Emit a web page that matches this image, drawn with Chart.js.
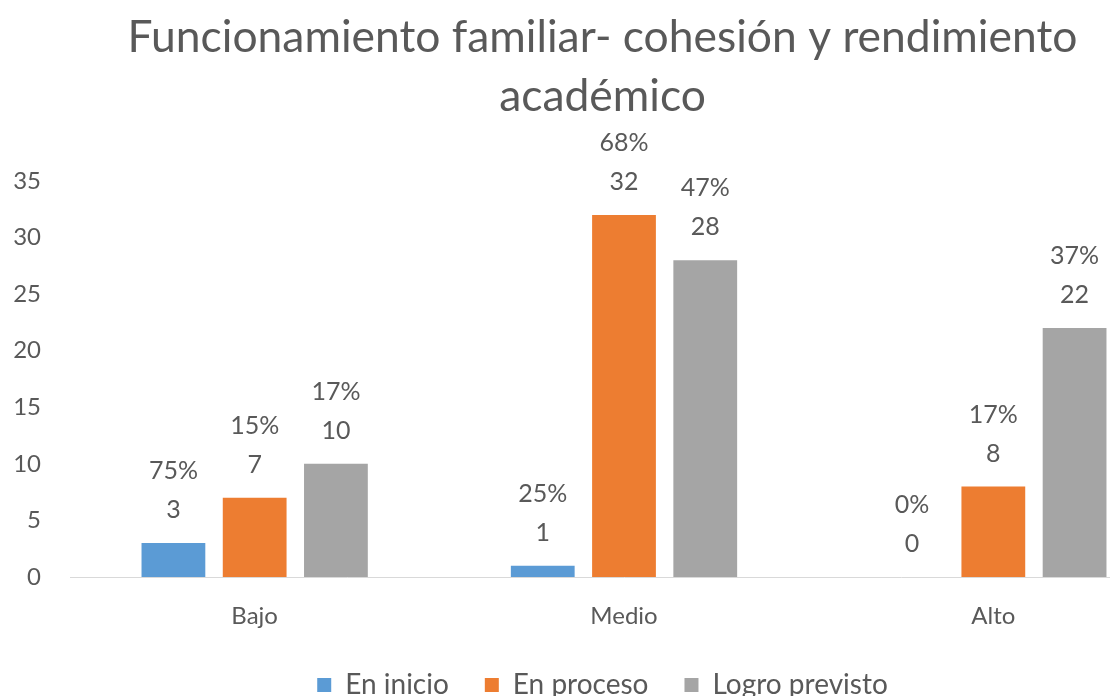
<!DOCTYPE html>
<html><head><meta charset="utf-8">
<script src="https://cdn.jsdelivr.net/npm/chart.js@4"></script>
<style>html,body{margin:0;padding:0;overflow:hidden;background:#fff}#wrap{width:1205px;height:712px}</style>
</head><body><div id="wrap"><canvas id="c" width="1205" height="712"></canvas></div>
<script>
const categories = ['Bajo', 'Medio', 'Alto'];
const seriesNames = ['En inicio', 'En proceso', 'Logro previsto'];
const enInicio = [3, 1, 0];
const enProceso = [7, 32, 8];
const logroPrevisto = [10, 28, 22];
const pctEnInicio = ['75%', '25%', '0%'];
const pctEnProceso = ['15%', '68%', '17%'];
const pctLogroPrevisto = ['17%', '47%', '37%'];
const yTicks = [0, 5, 10, 15, 20, 25, 30, 35];
const titleLines = ['Funcionamiento familiar- cohesión y rendimiento', 'académico'];

const FONT = 'Lato';
const TXT = '#595959';
const mctx = document.createElement('canvas').getContext('2d');
mctx.font = '100px ' + FONT;
const titleSize = Math.round(951 / mctx.measureText(titleLines[0]).width * 1000) / 10;

const labelPlugin = {
  id: 'barLabels',
  afterDatasetsDraw(chart) {
    const ctx = chart.ctx;
    ctx.save();
    ctx.font = '25px ' + FONT;
    ctx.fillStyle = TXT;
    ctx.textAlign = 'center';
    ctx.textBaseline = 'middle';
    chart.data.datasets.forEach((ds, i) => {
      chart.getDatasetMeta(i).data.forEach((bar, j) => {
        ctx.fillText(String(ds.data[j]), bar.x, bar.y - 33);
        ctx.fillText(ds.pct[j], bar.x, bar.y - 72);
      });
    });
    ctx.restore();
  }
};

new Chart(document.getElementById('c'), {
  type: 'bar',
  data: {
    labels: categories,
    datasets: [
      {label: seriesNames[0], data: enInicio, pct: pctEnInicio, backgroundColor: '#5B9BD5'},
      {label: seriesNames[1], data: enProceso, pct: pctEnProceso, backgroundColor: '#ED7D31'},
      {label: seriesNames[2], data: logroPrevisto, pct: pctLogroPrevisto, backgroundColor: '#A5A5A5'}
    ]
  },
  options: {
    responsive: false,
    animation: false,
    devicePixelRatio: 1,
    datasets: {bar: {categoryPercentage: 0.66, barPercentage: 0.785, borderWidth: 0}},
    layout: {padding: {left: 0, right: 0, top: 0, bottom: 3}},
    scales: {
      x: {
        grid: {display: false, drawTicks: false},
        border: {display: true, color: '#D9D9D9', width: 1},
        ticks: {color: TXT, font: {family: FONT, size: 24}, padding: 25},
        afterFit(s) { s.height = 58; }
      },
      y: {
        min: 0, max: 35,
        afterBuildTicks(s) { s.ticks = yTicks.map(v => ({value: v})); },
        grid: {display: false, drawTicks: false},
        border: {display: false},
        ticks: {color: TXT, font: {family: FONT, size: 24}, padding: 29},
        afterFit(s) { s.width = 70; }
      },
      y2: {
        position: 'right',
        display: true,
        grid: {display: false, drawTicks: false},
        border: {display: false},
        ticks: {display: false},
        afterFit(s) { s.width = 27; }
      }
    },
    plugins: {
      tooltip: {enabled: false},
      title: {
        display: true,
        text: titleLines,
        color: TXT,
        font: {family: FONT, size: titleSize, weight: 'normal', lineHeight: '59px'},
        padding: {top: 8, bottom: 55}
      },
      legend: {
        position: 'bottom',
        labels: {color: TXT, font: {family: FONT, size: 28}, boxWidth: 14, boxHeight: 14, padding: 36}
      }
    }
  },
  plugins: [labelPlugin]
});
</script>
</body></html>
